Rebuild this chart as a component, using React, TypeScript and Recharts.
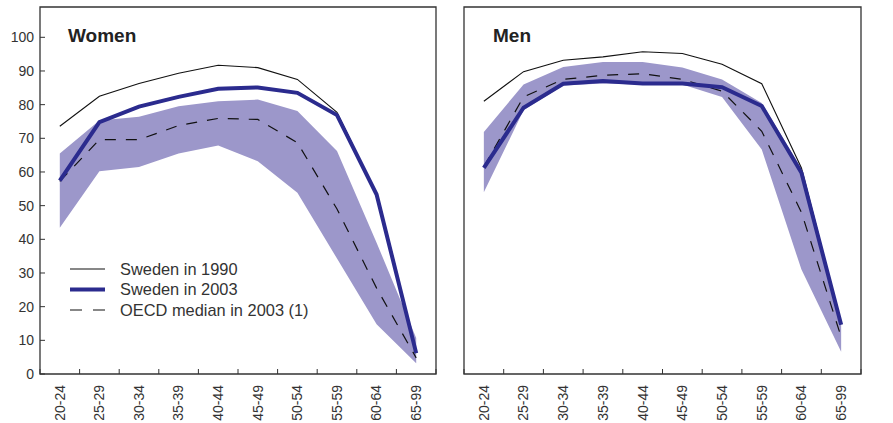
import { ComposedChart, Line, Area, XAxis, YAxis, ReferenceArea } from "recharts";

const ages = ["20-24", "25-29", "30-34", "35-39", "40-44", "45-49", "50-54", "55-59", "60-64", "65-99"];

// Women, participation rate (%)
const women1990 = [73.6, 82.5, 86.3, 89.3, 91.7, 91.0, 87.5, 77.7, 53.3, 6.2];
const women2003 = [57.4, 74.8, 79.4, 82.3, 84.7, 85.1, 83.5, 76.9, 53.3, 6.2];
const womenOecd = [57.2, 69.6, 69.6, 73.8, 75.9, 75.6, 68.7, 49.0, 25.5, 4.8];
const womenLow = [43.4, 60.2, 61.5, 65.5, 67.9, 63.2, 53.8, 34.3, 14.8, 3.2];
const womenHigh = [65.5, 75.3, 76.4, 79.5, 81.0, 81.5, 78.1, 66.2, 39.0, 10.7];

// Men
const men1990 = [81.0, 89.8, 93.2, 94.2, 95.7, 95.2, 92.0, 86.2, 61.2, 15.0];
const men2003 = [61.2, 79.1, 86.2, 87.0, 86.3, 86.3, 85.2, 79.6, 59.8, 14.6];
const menOecd = [61.5, 82.3, 87.5, 88.7, 89.2, 87.5, 84.0, 72.1, 48.0, 11.0];
const menLow = [54.0, 78.3, 85.7, 86.3, 86.0, 86.0, 82.3, 66.7, 31.0, 6.6];
const menHigh = [71.9, 86.0, 91.2, 92.7, 92.7, 91.0, 87.5, 80.5, 61.0, 15.5];

const yTicks = [0, 10, 20, 30, 40, 50, 60, 70, 80, 90, 100];
const legendLabels = ["Sweden in 1990", "Sweden in 2003", "OECD median in 2003 (1)"];

const FONT = '"Liberation Sans", Arial, Helvetica, sans-serif';
const INK = "#333";
const BAND = "#9c97ca";
const NAVY = "#2b2b8e";
const Y_MAX = 109;

// category centres carry labels, half steps carry the inward tick marks
const xTicks = ages.flatMap((_, i) => [i - 0.5, i]).concat(ages.length - 0.5);

const buildRows = (low: number[], high: number[], oecd: number[], s1990: number[], s2003: number[]) =>
  ages.map((age, i) => ({ i, age, band: [low[i], high[i]], oecd: oecd[i], s1990: s1990[i], s2003: s2003[i] }));

const XTick = ({ x, y, payload }: any) => {
  const v = payload.value;
  if (!Number.isInteger(v)) return <line x1={x} x2={x} y1={y} y2={y - 5} stroke={INK} />;
  const ty = y + 11;
  return (
    <text x={x} y={ty} transform={`rotate(-90 ${x} ${ty})`} textAnchor="end" dy="0.35em"
      fontSize={14} fill={INK} fontFamily={FONT}>
      {ages[v]}
    </text>
  );
};

const yTick = (side: "left" | "right", label: boolean) => ({ x, y, payload }: any) => {
  const dir = side === "left" ? 1 : -1;
  return (
    <g>
      <line x1={x} x2={x + 5 * dir} y1={y} y2={y} stroke={INK} />
      {label && (
        <text x={side === "left" ? x - 6 : x + 7} y={y} dy="0.35em" textAnchor={side === "left" ? "end" : "start"}
          fontSize={14} fill={INK} fontFamily={FONT}>
          {payload.value}
        </text>
      )}
    </g>
  );
};

function Panel({ title, data, labelSide, left, width, margin, legend }: any) {
  return (
    <div style={{ position: "absolute", left, top: 0, width, height: 423 }}>
      <ComposedChart width={width} height={423} data={data} margin={margin}>
        <XAxis xAxisId="x" dataKey="i" type="number" domain={[-0.5, ages.length - 0.5]} ticks={xTicks}
          interval={0} tick={<XTick />} tickLine={false} axisLine={false} tickSize={0} tickMargin={0} height={45} />
        <YAxis yAxisId="l" orientation="left" domain={[0, Y_MAX]} ticks={yTicks} interval={0}
          tick={yTick("left", labelSide === "left")} tickLine={false} axisLine={false} tickSize={0} tickMargin={0}
          width={labelSide === "left" ? 40 : 0} />
        <YAxis yAxisId="r" orientation="right" domain={[0, Y_MAX]} ticks={yTicks} interval={0}
          tick={yTick("right", labelSide === "right")} tickLine={false} axisLine={false} tickSize={0} tickMargin={0}
          width={labelSide === "right" ? 32 : 0} />
        <Area xAxisId="x" yAxisId="l" type="linear" dataKey="band" stroke="none" fill={BAND} fillOpacity={1}
          isAnimationActive={false} dot={false} activeDot={false} />
        <Line xAxisId="x" yAxisId="l" type="linear" dataKey="s1990" stroke="#111" strokeWidth={1.1}
          dot={false} activeDot={false} isAnimationActive={false} />
        <Line xAxisId="x" yAxisId="l" type="linear" dataKey="oecd" stroke="#111" strokeWidth={1.2}
          strokeDasharray="11 10" dot={false} activeDot={false} isAnimationActive={false} />
        <Line xAxisId="x" yAxisId="l" type="linear" dataKey="s2003" stroke={NAVY} strokeWidth={4}
          dot={false} activeDot={false} isAnimationActive={false} />
        <ReferenceArea xAxisId="x" yAxisId="l" x1={-0.5} x2={ages.length - 0.5} y1={0} y2={Y_MAX}
          fill="none" stroke={INK} strokeWidth={1.3} ifOverflow="visible" />
      </ComposedChart>
      <div style={{ position: "absolute", left: title.left, top: 26, fontFamily: FONT, fontWeight: "bold",
        fontSize: 19, lineHeight: "19px", color: "#222" }}>
        {title.text}
      </div>
      {legend && (
        <svg width={width} height={423} style={{ position: "absolute", left: 0, top: 0, pointerEvents: "none" }}>
          {legendLabels.map((label, k) => {
            const cy = 269 + k * 20.5;
            return (
              <g key={label}>
                <line x1={70} x2={105} y1={cy} y2={cy}
                  stroke={k === 1 ? NAVY : "#111"}
                  strokeWidth={k === 1 ? 4 : k === 2 ? 1.2 : 1.1}
                  strokeDasharray={k === 2 ? "12 11" : undefined} />
                <text x={120} y={cy} dy="0.36em" fontSize={16.4} fill={INK} fontFamily={FONT}>{label}</text>
              </g>
            );
          })}
        </svg>
      )}
    </div>
  );
}

export default function App() {
  const women = buildRows(womenLow, womenHigh, womenOecd, women1990, women2003);
  const men = buildRows(menLow, menHigh, menOecd, men1990, men2003);
  return (
    <div style={{ position: "absolute", left: 0, top: 0, width: 893, height: 423, background: "#fff", overflow: "hidden" }}>
      <Panel title={{ text: "Women", left: 68 }} data={women} labelSide="left" left={0} width={440}
        margin={{ top: 7, right: 4, left: 0, bottom: 4 }} legend />
      <Panel title={{ text: "Men", left: 53 }} data={men} labelSide="right" left={440} width={453}
        margin={{ top: 7, right: 0, left: 24, bottom: 4 }} />
    </div>
  );
}
